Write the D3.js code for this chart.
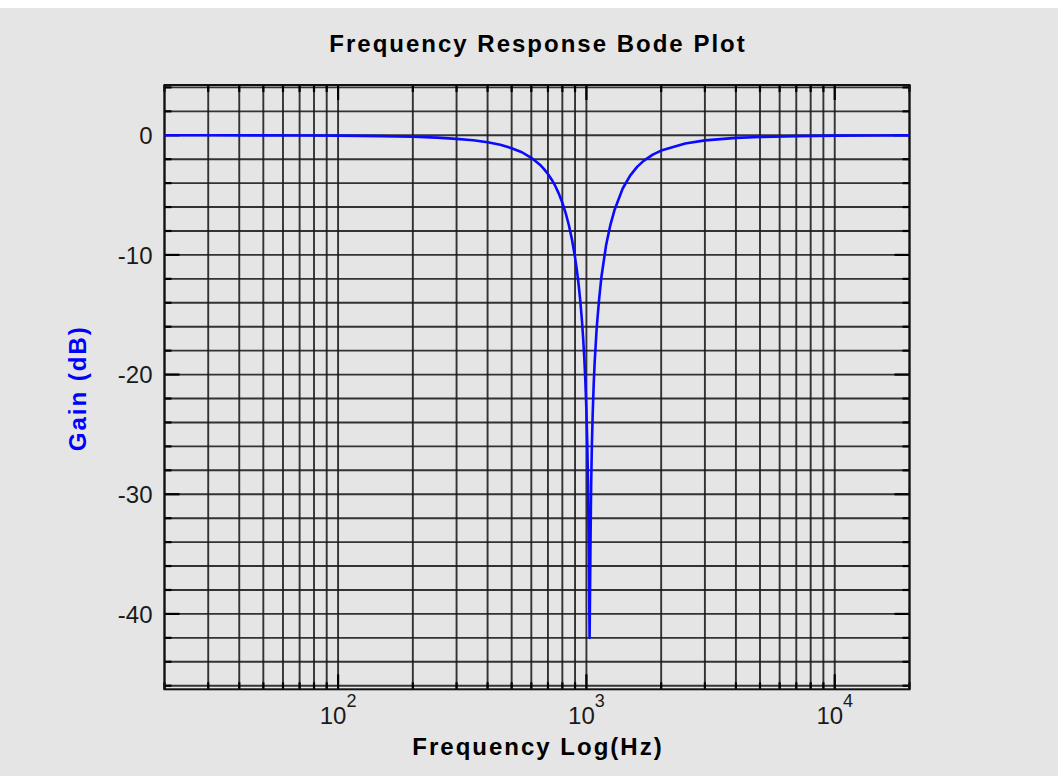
<!DOCTYPE html>
<html>
<head>
<meta charset="utf-8">
<script src="https://cdn.jsdelivr.net/npm/d3@7"></script>
<style>
  html, body { margin: 0; padding: 0; background: #ffffff; }
  svg { display: block; }
  text { font-family: "Liberation Sans", Arial, sans-serif; }
</style>
</head>
<body>
<svg id="chart" width="1059" height="776"></svg>
<script>
// Notch filter magnitude response, frequency in Hz and gain in dB
const freqHz = [20, 30, 50, 70, 100, 150, 200, 250, 300, 350, 400, 450, 500, 550, 600, 650,
  675, 700, 725, 750, 775, 800, 825, 850, 875, 900, 915, 930, 945, 960, 970, 980, 990,
  1000, 1008, 1015, 1022, 1030, 1038, 1045, 1052, 1060, 1070, 1080, 1090, 1100, 1125,
  1150, 1200, 1250, 1300, 1400, 1500, 1600, 1700, 1850, 2000, 2500, 3000, 4000, 5000,
  7000, 10000, 15000, 20000];
const gainDb = [0, -0.003, -0.007, -0.014, -0.03, -0.07, -0.12, -0.2, -0.3, -0.42, -0.59, -0.8,
  -1.08, -1.42, -1.88, -2.46, -2.83, -3.24, -3.71, -4.26, -4.9, -5.64, -6.5, -7.52, -8.73,
  -10.2, -11.25, -12.45, -13.86, -15.56, -16.92, -18.52, -20.48, -23.0, -25.72, -29.1,
  -34.6, -42.0, -34.6, -29.2, -25.9, -23.3, -20.8, -18.9, -17.5, -16.1, -13.7, -11.8,
  -9.2, -7.46, -6.2, -4.45, -3.37, -2.64, -2.14, -1.62, -1.28, -0.69, -0.43, -0.22,
  -0.14, -0.07, -0.03, -0.015, -0.008];

// Axis ranges and labels
const freqRange = [20, 20000];
const gainRange = [-46.3, 4.2];
const gainGrid = d3.range(-46, 5, 2);
const gainTickLabels = [0, -10, -20, -30, -40];
const freqDecades = [2, 3, 4];
const titleText = "Frequency Response Bode Plot";
const xLabelText = "Frequency Log(Hz)";
const yLabelText = "Gain (dB)";

const svg = d3.select("#chart");
const plot = { left: 164.5, right: 909.5, top: 85, bottom: 689.3 };

// panel background
svg.append("rect")
  .attr("x", 0).attr("y", 8)
  .attr("width", 1058).attr("height", 768)
  .attr("fill", "#e5e5e5");

const x = d3.scaleLog().domain(freqRange).range([plot.left, plot.right]);
const y = d3.scaleLinear().domain(gainRange).range([plot.bottom, plot.top]);

// vertical grid at 1..9 times each decade
const freqGrid = [];
for (let d = 1; d <= 4; d++) {
  for (let m = 1; m <= 9; m++) {
    const f = m * Math.pow(10, d);
    if (f >= freqRange[0] && f <= freqRange[1]) freqGrid.push(f);
  }
}

const grid = svg.append("g").attr("stroke", "#1a1a1a").attr("stroke-width", 1.9).attr("stroke-opacity", 0.88);
grid.selectAll("line.v").data(freqGrid).join("line")
  .attr("class", "v")
  .attr("x1", d => x(d)).attr("x2", d => x(d))
  .attr("y1", plot.top).attr("y2", plot.bottom);
grid.selectAll("line.h").data(gainGrid).join("line")
  .attr("class", "h")
  .attr("x1", plot.left).attr("x2", plot.right)
  .attr("y1", d => y(d)).attr("y2", d => y(d));

// inward tick stubs on all four sides
const isMajorF = f => Math.abs(Math.log10(f) - Math.round(Math.log10(f))) < 1e-9;
const isMajorG = g => g % 10 === 0;
const ticks = svg.append("g").attr("stroke", "#000").attr("stroke-width", 2.2);
ticks.selectAll("line.tb").data(freqGrid).join("line")
  .attr("x1", d => x(d)).attr("x2", d => x(d))
  .attr("y1", plot.bottom).attr("y2", d => plot.bottom - (isMajorF(d) ? 15 : 7));
ticks.selectAll("line.tt").data(freqGrid).join("line")
  .attr("x1", d => x(d)).attr("x2", d => x(d))
  .attr("y1", plot.top).attr("y2", d => plot.top + (isMajorF(d) ? 15 : 7));
ticks.selectAll("line.tl").data(gainGrid).join("line")
  .attr("y1", d => y(d)).attr("y2", d => y(d))
  .attr("x1", plot.left).attr("x2", d => plot.left + (isMajorG(d) ? 15 : 7));
ticks.selectAll("line.tr").data(gainGrid).join("line")
  .attr("y1", d => y(d)).attr("y2", d => y(d))
  .attr("x1", plot.right).attr("x2", d => plot.right - (isMajorG(d) ? 15 : 7));

// plot frame
svg.append("rect")
  .attr("x", plot.left).attr("y", plot.top)
  .attr("width", plot.right - plot.left).attr("height", plot.bottom - plot.top)
  .attr("fill", "none").attr("stroke", "#111").attr("stroke-width", 2);

// response curve
const pts = freqHz.map((f, i) => [f, gainDb[i]]);
svg.append("path")
  .datum(pts)
  .attr("fill", "none")
  .attr("stroke", "#0a0aff")
  .attr("stroke-width", 2.6)
  .attr("stroke-linejoin", "round")
  .attr("d", d3.line().x(d => x(d[0])).y(d => y(d[1])));

// y tick labels
svg.append("g").selectAll("text").data(gainTickLabels).join("text")
  .attr("x", plot.left - 12)
  .attr("y", d => y(d))
  .attr("dy", "0.36em")
  .attr("text-anchor", "end")
  .attr("font-size", 24)
  .attr("fill", "#1a1a1a")
  .text(d => d);

// x tick labels as powers of ten
const xl = svg.append("g").selectAll("text").data(freqDecades).join("text")
  .attr("x", d => x(Math.pow(10, d)))
  .attr("y", 724)
  .attr("text-anchor", "middle")
  .attr("font-size", 24)
  .attr("fill", "#1a1a1a");
xl.append("tspan").text("10");
xl.append("tspan").attr("dy", -17).attr("font-size", 18).text(d => d);

// title and axis titles
svg.append("text")
  .attr("x", (plot.left + plot.right) / 2 + 1).attr("y", 52)
  .attr("text-anchor", "middle")
  .attr("font-size", 24).attr("font-weight", "bold")
  .attr("letter-spacing", 2)
  .attr("fill", "#000")
  .text(titleText);

svg.append("text")
  .attr("x", (plot.left + plot.right) / 2 + 1).attr("y", 755)
  .attr("text-anchor", "middle")
  .attr("font-size", 24).attr("font-weight", "bold")
  .attr("letter-spacing", 2)
  .attr("fill", "#000")
  .text(xLabelText);

svg.append("text")
  .attr("transform", `translate(86, ${(plot.top + plot.bottom) / 2 + 1}) rotate(-90)`)
  .attr("text-anchor", "middle")
  .attr("font-size", 24).attr("font-weight", "bold")
  .attr("letter-spacing", 2)
  .attr("fill", "#0000ff")
  .text(yLabelText);
</script>
</body>
</html>
